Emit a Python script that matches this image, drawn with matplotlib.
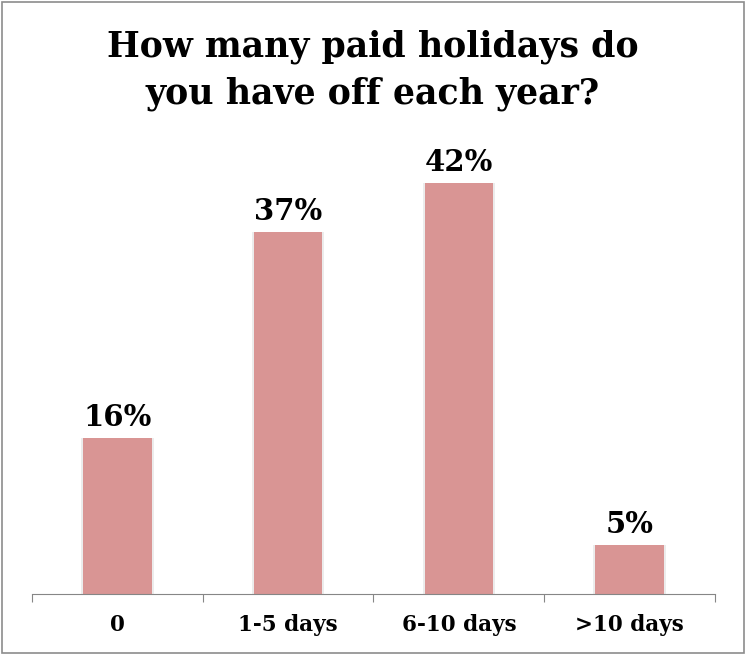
import numpy as np
import matplotlib.pyplot as plt
from matplotlib.patches import Rectangle

# Data
categories = ["0", "1-5 days", "6-10 days", ">10 days"]
values = [16, 37, 42, 5]
labels = ["16%", "37%", "42%", "5%"]

plt.rcParams['font.family'] = ['DejaVu Serif']

fig = plt.figure(figsize=(7.46, 6.55), dpi=100)
# outer border
fig.patches.append(Rectangle((0.003, 0.003), 0.994, 0.994, transform=fig.transFigure,
                             fill=False, edgecolor="#8c8c8c", linewidth=1.2))

ax = fig.add_axes([0.0429, 0.0931, 0.9155, 0.678])
x = np.arange(len(categories))
# soft shadow
ax.bar(x, values, width=0.425, color="#ececec", zorder=1)
ax.bar(x, values, width=0.40, color="#d99594", zorder=2)

for xi, v, lab in zip(x, values, labels):
    ax.text(xi, v + 0.6, lab, ha="center", va="bottom", fontsize=21, fontweight="bold")

ax.set_xlim(-0.5, 3.5)
ax.set_ylim(0, 45.4)
ax.set_yticks([])
for s in ["top", "right", "left"]:
    ax.spines[s].set_visible(False)
ax.spines["bottom"].set_color("#868686")
ax.set_xticks(np.arange(-0.5, 4, 1.0))
ax.set_xticklabels([])
ax.tick_params(axis="x", length=6, color="#868686", direction="out")
for xi, c in zip(x, categories):
    ax.text(xi, -3.2, c, ha="center", va="center", fontsize=15.5, fontweight="bold")

fig.text(0.5, 0.893, "How many paid holidays do\nyou have off each year?", ha="center", va="center",
         fontsize=25, fontweight="bold", linespacing=1.45)

fig.savefig("out.png", dpi=100)
